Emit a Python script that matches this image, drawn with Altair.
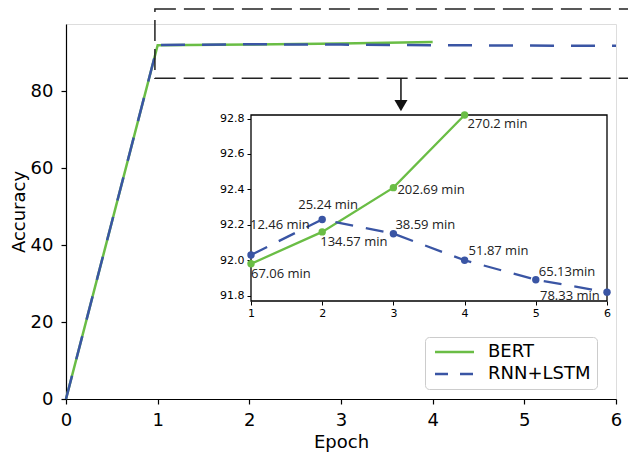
import altair as alt
import pandas as pd

# ---------------- data ----------------
models = ["BERT", "RNN+LSTM"]
epochs_bert = [0, 1, 2, 3, 4]
acc_bert = [0.0, 91.98, 92.16, 92.41, 92.82]
epochs_rnn = [0, 1, 2, 3, 4, 5, 6]
acc_rnn = [0.0, 92.03, 92.23, 92.15, 92.00, 91.89, 91.82]
time_bert = ["67.06 min", "134.57 min", "202.69 min", "270.2 min"]
time_rnn = ["12.46 min", "25.24 min", "38.59 min", "51.87 min", "65.13min", "78.33 min"]

x_ticks = [0, 1, 2, 3, 4, 5, 6]
y_ticks = [0, 20, 40, 60, 80]
inset_x_ticks = [1, 2, 3, 4, 5, 6]
inset_y_ticks = [91.8, 92.0, 92.2, 92.4, 92.6, 92.8]

main_x_domain = [0, 6]
main_y_domain = [0, 97.5]
inset_x_domain = [1, 6]
inset_y_domain = [91.77, 92.82]

zoom_x = [0.97, 6.4]
zoom_y = [83.4, 101.4]
arrow_x = [3.654]
arrow_y = [83.4, 77.6]
arrow_head_y = [76.3]

# ---------------- styles ----------------
GREEN = "#6abd45"
BLUE = "#3a55a4"
FONT = "DejaVu Sans"
ANN_FONT = "Open Sans"

bert_lab_off = [(0, 10), (-2, 10), (4, 2), (3, 9)]
rnn_lab_off = [(-1, -30), (-24, -15), (2, -9), (4, -9), (3, -8), (-67, 4)]

W, H = 550, 375

bert_df = pd.DataFrame({"epoch": epochs_bert, "acc": acc_bert, "model": "BERT"})
rnn_df = pd.DataFrame({"epoch": epochs_rnn, "acc": acc_rnn, "model": "RNN+LSTM"})
legend_df = pd.DataFrame({"epoch": [epochs_bert[0], epochs_rnn[0]],
                          "acc": [acc_bert[0], acc_rnn[0]], "model": models})
zoom_df = pd.DataFrame({"x0": [zoom_x[0]], "x1": [zoom_x[1]], "y0": [zoom_y[0]], "y1": [zoom_y[1]]})
arrow_df = pd.DataFrame({"x": arrow_x, "y0": [arrow_y[0]], "y1": [arrow_y[1]]})
head_df = pd.DataFrame({"x": arrow_x, "y": arrow_head_y})
frame_df = pd.DataFrame({"x0": [inset_x_domain[0]], "x1": [inset_x_domain[1]],
                         "y0": [inset_y_domain[0]], "y1": [inset_y_domain[1]]})

XS = alt.Scale(domain=main_x_domain, nice=False, zero=False)
YS = alt.Scale(domain=main_y_domain, nice=False, zero=False)
AX_X = alt.Axis(values=x_ticks, title="Epoch", grid=False, labelFontSize=18, titleFontSize=18,
                labelFont=FONT, titleFont=FONT, tickSize=5, tickWidth=1.2, domainWidth=1.2,
                labelPadding=7, titlePadding=4, domainColor="black", tickColor="black",
                labelColor="black", titleColor="black", titleFontWeight="normal",
                labelFlush=False, format="d")
AX_Y = alt.Axis(values=y_ticks, title="Accuracy", grid=False, labelFontSize=18, titleFontSize=18,
                labelFont=FONT, titleFont=FONT, tickSize=5, tickWidth=1.2, domainWidth=1.2,
                labelPadding=8, titlePadding=2, domainColor="black", tickColor="black",
                labelColor="black", titleColor="black", titleFontWeight="normal",
                labelFlush=False, format="d")


def MX(f):
    return alt.X(f, type="quantitative", scale=XS, axis=AX_X)


def MY(f):
    return alt.Y(f, type="quantitative", scale=YS, axis=AX_Y)


# inset scales mapped to a sub-rectangle of the view
IXS = alt.Scale(domain=inset_x_domain, range=[185, 541], nice=False, zero=False)
IYS = alt.Scale(domain=inset_y_domain, range=[277, 91], nice=False, zero=False)
IAX_X = alt.Axis(values=inset_x_ticks, title=None, grid=False, orient="bottom", offset=-(H - 277),
                 domain=False, labelFontSize=11, labelFont=FONT, tickSize=4, tickColor="black",
                 labelColor="black", labelPadding=2, labelFlush=False, format="d")
IAX_Y = alt.Axis(values=inset_y_ticks, title=None, grid=False, orient="left", offset=-185,
                 domain=False, labelFontSize=11, labelFont=FONT, tickSize=4, tickColor="black",
                 labelColor="black", labelPadding=3, labelFlush=False, format=".1f")


def IX(f):
    return alt.X(f, type="quantitative", scale=IXS, axis=IAX_X)


def IY(f):
    return alt.Y(f, type="quantitative", scale=IYS, axis=IAX_Y)


LEG = dict(title=None, orient="none", legendX=359, legendY=313,
           symbolType="M-1,0H6.8", symbolSize=100, symbolStrokeWidth=2.5,
           labelFontSize=18, labelFont=FONT, labelColor="black",
           labelOffset=39, padding=6, strokeColor="#cccccc",
           fillColor="white", cornerRadius=4, rowPadding=4)

# ---------------- main plot ----------------
bert_main = alt.Chart(bert_df).mark_line(color=GREEN, strokeWidth=2.5).encode(
    x=MX("epoch"), y=MY("acc"))
rnn_main = alt.Chart(rnn_df).mark_line(color=BLUE, strokeWidth=2.5, strokeDash=[24, 17]).encode(
    x=MX("epoch"), y=MY("acc"))
legend_layer = alt.Chart(legend_df).mark_line(strokeWidth=2.5).encode(
    x=MX("epoch"), y=MY("acc"),
    color=alt.Color("model:N", scale=alt.Scale(domain=models, range=[GREEN, BLUE]),
                    legend=alt.Legend(**LEG)),
    strokeDash=alt.StrokeDash("model:N", scale=alt.Scale(domain=models, range=[[1, 0], [13, 12]]),
                              legend=alt.Legend(**LEG)),
)
zoom_rect = alt.Chart(zoom_df).mark_rect(fill=None, fillOpacity=0, stroke="#222222", strokeWidth=1.5,
                                         strokeDash=[21, 8]).encode(
    x=MX("x0"), x2="x1", y=MY("y0"), y2="y1")
arrow_rule = alt.Chart(arrow_df).mark_rule(color="#111111", strokeWidth=1.5).encode(
    x=MX("x"), y=MY("y0"), y2="y1")
arrow_head = alt.Chart(head_df).mark_point(shape="triangle-down", filled=True, size=170,
                                           color="#111111", opacity=1).encode(
    x=MX("x"), y=MY("y"))

main = alt.layer(bert_main, rnn_main, legend_layer, zoom_rect, arrow_rule, arrow_head)

# ---------------- inset ----------------
frame = alt.Chart(frame_df).mark_rect(fill="white", stroke="black", strokeWidth=1.3).encode(
    x=IX("x0"), x2="x1", y=IY("y0"), y2="y1")
bert_in = alt.Chart(bert_df).transform_filter("datum.epoch >= 1")
rnn_in = alt.Chart(rnn_df).transform_filter("datum.epoch >= 1")
bert_line_in = bert_in.mark_line(color=GREEN, strokeWidth=2.3).encode(x=IX("epoch"), y=IY("acc"))
rnn_line_in = rnn_in.mark_line(color=BLUE, strokeWidth=2.3, strokeDash=[18, 13]).encode(
    x=IX("epoch"), y=IY("acc"))
bert_pts = bert_in.mark_circle(color=GREEN, size=55, opacity=1).encode(x=IX("epoch"), y=IY("acc"))
rnn_pts = rnn_in.mark_circle(color=BLUE, size=55, opacity=1).encode(x=IX("epoch"), y=IY("acc"))

labels = []
for i, (txt, (dx, dy)) in enumerate(zip(time_bert, bert_lab_off)):
    d = pd.DataFrame({"epoch": [epochs_bert[i + 1]], "acc": [acc_bert[i + 1]], "label": [txt]})
    labels.append(alt.Chart(d).mark_text(align="left", baseline="middle", dx=dx, dy=dy,
                                         fontSize=13, font=ANN_FONT, color="#222222").encode(
        x=IX("epoch"), y=IY("acc"), text="label:N"))
for i, (txt, (dx, dy)) in enumerate(zip(time_rnn, rnn_lab_off)):
    d = pd.DataFrame({"epoch": [epochs_rnn[i + 1]], "acc": [acc_rnn[i + 1]], "label": [txt]})
    labels.append(alt.Chart(d).mark_text(align="left", baseline="middle", dx=dx, dy=dy,
                                         fontSize=13, font=ANN_FONT, color="#222222").encode(
        x=IX("epoch"), y=IY("acc"), text="label:N"))

inset = alt.layer(frame, bert_line_in, rnn_line_in, bert_pts, rnn_pts, *labels)

chart = alt.layer(main, inset).resolve_scale(x="independent", y="independent").properties(
    width=W, height=H,
    autosize=alt.AutoSizeParams(type="none"),
    padding={"left": 58, "top": 16, "right": 12, "bottom": 53},
).configure_view(stroke="black", strokeWidth=1.2).configure(background="white")

chart.save("out.html", embed_options={"renderer": "svg", "actions": False})
